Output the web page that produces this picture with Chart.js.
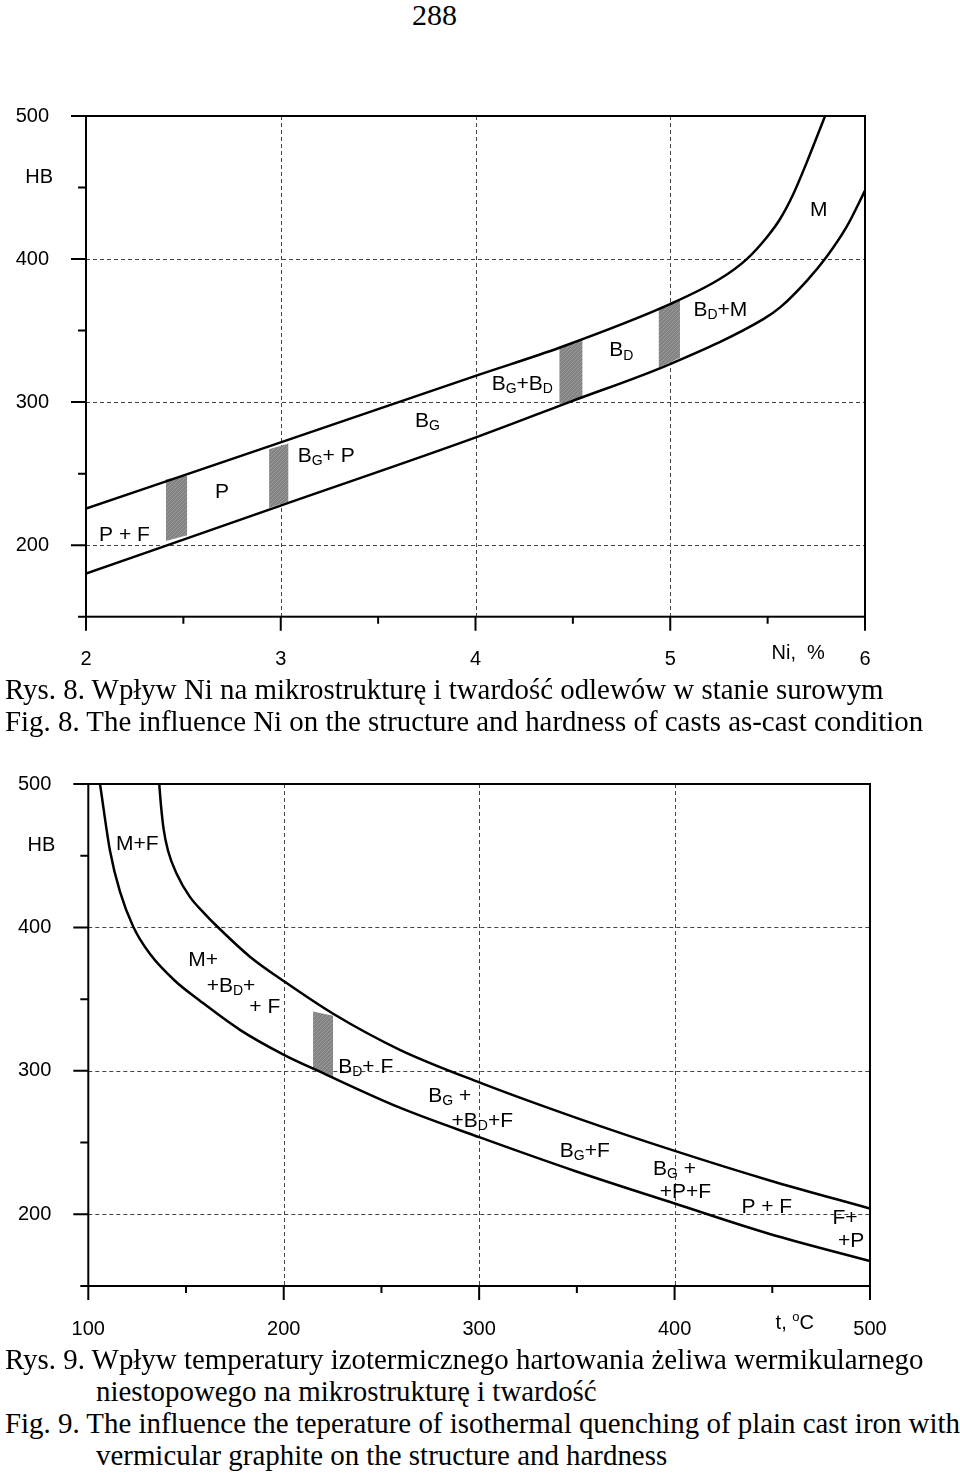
<!DOCTYPE html>
<html>
<head>
<meta charset="utf-8">
<script src="https://cdn.jsdelivr.net/npm/chart.js@4.4.1/dist/chart.umd.min.js"></script>
<style>
    body { margin: 0; background: #fff; width: 960px; height: 1477px; position: relative; overflow: hidden; }
    canvas { position: absolute; left: 0; }
    .cap { position: absolute; font-family: "Liberation Serif", "Times New Roman", serif; font-size: 28.9px; line-height: 32px; white-space: nowrap; color: #000; }
</style>
</head>
<body>
<div class="cap" style="left:412px; top:0px; font-size:30px; line-height:30px;">288</div>

<canvas id="niChart" width="960" height="600" style="top:75px"></canvas>
<div class="cap" style="left:5px; top:673px;">Rys. 8. Wpływ Ni na mikrostrukturę i twardość odlewów w stanie surowym</div>
<div class="cap" style="left:5px; top:705px;">Fig. 8. The influence Ni on the structure and hardness of casts as-cast condition</div>

<canvas id="tempChart" width="960" height="597" style="top:743px"></canvas>
<div class="cap" style="left:5px; top:1343px;">Rys. 9. Wpływ temperatury izotermicznego hartowania żeliwa wermikularnego</div>
<div class="cap" style="left:96px; top:1375px;">niestopowego na mikrostrukturę i twardość</div>
<div class="cap" style="left:5px; top:1407px;">Fig. 9. The influence the teperature of isothermal quenching of plain cast iron with</div>
<div class="cap" style="left:96px; top:1439px;">vermicular graphite on the structure and hardness</div>

<script>
// ---- Fig. 8: hardness vs Ni content ----
const niUpper = [2.0, 2.996, 4.023, 4.434, 4.999, 5.256, 5.393, 5.495, 5.564, 5.632, 5.701, 5.795];
const hbUpper = [225.6, 271.7, 319.4, 338.2, 368.5, 386.2, 400, 415.1, 428, 445.5, 467.6, 500];
const niLower = [2.0, 2.996, 4.023, 4.485, 4.999, 5.478, 5.564, 5.701, 5.803, 5.906, 6.0];
const hbLower = [180.1, 227.5, 276.4, 300.2, 326.6, 358, 366.2, 384.8, 401.6, 422.6, 447.8];

// grey transition zones between structures
const niBandFrom = [2.41, 2.94, 4.43, 4.94];
const niBandTo = [2.52, 3.04, 4.55, 5.05];
const hbBandTopFrom = [246, 267, 338, 366];
const hbBandTopTo = [248.5, 271, 344, 371];
const hbBandBotFrom = [203, 226, 298.5, 324];
const hbBandBotTo = [207, 230.5, 303, 331];

const niTickLabels = [2, 3, 4, 5, 6];
const hbTickLabels = [200, 300, 400, 500];

const niZones = ['P + F', 'P', 'B_G+ P', 'B_G', 'B_G+B_D', 'B_D', 'B_D+M', 'M'];
const niZoneNi = [2.067, 2.662, 3.087, 3.689, 4.083, 4.687, 5.119, 5.717];
const niZoneHb = [207, 237, 262, 287, 312.6, 336, 364, 434];

// ---- Fig. 9: hardness vs isothermal quenching temperature ----
const tUpper = [136.3, 137.2, 138.5, 140.8, 145.2, 151.9, 159.6, 165.7, 182.7, 200.1, 225.3, 259.4, 300.4, 349, 400.1, 448.7, 500];
const hbUpper2 = [500, 484.9, 468.9, 453.5, 437.5, 421.5, 409.5, 401, 379.6, 362.5, 339.8, 314.7, 291.8, 267.6, 244.2, 223.6, 204];
const tLower = [106, 111.1, 116.2, 123, 131.5, 144.3, 157.1, 177.6, 200.1, 218.5, 259.4, 300.4, 349, 400.1, 448.7, 500];
const hbLower2 = [500, 453.5, 424.9, 400.5, 381.6, 362.8, 348.9, 328.6, 311.2, 299.4, 274.3, 253.6, 230.2, 207.5, 186.3, 167.4];

const tBandFrom = [215];
const tBandTo = [225.3];
const hbBand2TopFrom = [341.4];
const hbBand2TopTo = [338.5];
const hbBand2BotFrom = [302];
const hbBand2BotTo = [296];

const tTickLabels = [100, 200, 300, 400, 500];

const tZones = ['M+F', 'M+', '+B_D+', '+ F', 'B_D+ F', 'B_G +', '+B_D+F', 'B_G+F', 'B_G +', '+P+F', 'P + F', 'F+', '+P'];
const tZoneT = [114.2, 151.2, 160.6, 182.4, 227.9, 273.9, 285.9, 341.3, 389, 392.4, 434.2, 480.8, 483.6];
const tZoneHb = [458.2, 377.2, 359.3, 344.2, 302.3, 282.6, 265.1, 244.2, 231.4, 215.1, 204.6, 197.6, 181.4];

const SANS = '"Liberation Sans", Arial, sans-serif';

function zip(xs, ys) {
    return xs.map((x, i) => ({ x: x, y: ys[i] }));
}

function hatch() {
    const c = document.createElement('canvas');
    c.width = c.height = 4;
    const g = c.getContext('2d');
    g.fillStyle = '#838383';
    g.fillRect(0, 0, 4, 4);
    g.strokeStyle = '#9c9c9c';
    g.lineWidth = 1;
    g.beginPath();
    g.moveTo(0, 4);
    g.lineTo(4, 0);
    g.stroke();
    return g.createPattern(c, 'repeat');
}

function bandDatasets(x0, x1, t0, t1, b0, b1) {
    const out = [];
    const pattern = hatch();
    x0.forEach((x, i) => {
        out.push({ data: [{ x: x, y: t0[i] }, { x: x1[i], y: t1[i] }], borderWidth: 0, pointRadius: 0, fill: false });
        out.push({ data: [{ x: x, y: b0[i] }, { x: x1[i], y: b1[i] }], borderWidth: 0, pointRadius: 0, fill: '-1', backgroundColor: pattern });
    });
    return out;
}

// text with single-char subscripts (_X) and superscripts (^X)
function drawRich(ctx, str, px, py, size) {
    let cx = px;
    ctx.textAlign = 'left';
    ctx.textBaseline = 'middle';
    for (let i = 0; i < str.length; i++) {
        let ch = str[i];
        let s = size, dy = 0;
        if (ch === '_' || ch === '^') {
            dy = ch === '_' ? size * 0.24 : -size * 0.3;
            s = Math.round(size * 0.66);
            ch = str[++i];
        }
        ctx.font = s + 'px ' + SANS;
        ctx.fillText(ch, cx, py + dy);
        cx += ctx.measureText(ch).width;
    }
}

// dashed grid, frame, tick marks and zone labels
const framePlugin = {
    id: 'frame',
    beforeDatasetsDraw(chart, args, opts) {
        const { ctx, chartArea: a, scales: { x, y } } = chart;
        ctx.save();
        ctx.strokeStyle = '#444';
        ctx.lineWidth = 1;
        ctx.setLineDash([4, 3]);
        ctx.beginPath();
        opts.xGrid.forEach(v => {
            const px = Math.round(x.getPixelForValue(v)) + 0.5;
            ctx.moveTo(px, a.top);
            ctx.lineTo(px, a.bottom);
        });
        opts.yGrid.forEach(v => {
            const py = Math.round(y.getPixelForValue(v)) + 0.5;
            ctx.moveTo(a.left, py);
            ctx.lineTo(a.right, py);
        });
        ctx.stroke();
        ctx.restore();
    },
    afterDatasetsDraw(chart, args, opts) {
        const { ctx, chartArea: a, scales: { x, y } } = chart;
        ctx.save();
        ctx.strokeStyle = '#000';
        ctx.fillStyle = '#000';
        ctx.lineWidth = 2;
        ctx.setLineDash([]);
        ctx.strokeRect(a.left, a.top, a.right - a.left, a.bottom - a.top);

        ctx.beginPath();
        opts.xMajor.forEach(v => {
            const px = x.getPixelForValue(v);
            ctx.moveTo(px, a.bottom);
            ctx.lineTo(px, a.bottom + 14);
        });
        opts.xMinor.forEach(v => {
            const px = x.getPixelForValue(v);
            ctx.moveTo(px, a.bottom);
            ctx.lineTo(px, a.bottom + 7);
        });
        opts.yMajor.forEach(v => {
            const py = y.getPixelForValue(v);
            ctx.moveTo(a.left - 15, py);
            ctx.lineTo(a.left, py);
        });
        opts.yMinor.forEach(v => {
            const py = y.getPixelForValue(v);
            ctx.moveTo(a.left - 8, py);
            ctx.lineTo(a.left, py);
        });
        ctx.stroke();

        // axis names
        ctx.font = '20px ' + SANS;
        ctx.textAlign = 'right';
        ctx.textBaseline = 'middle';
        ctx.fillText('HB', a.left - 33, y.getPixelForValue(450) - 10);
        drawRich(ctx, opts.xName, x.getPixelForValue(opts.xNameAt), a.bottom + 37, 20);

        opts.zones.forEach((txt, i) => {
            drawRich(ctx, txt, x.getPixelForValue(opts.zoneX[i]), y.getPixelForValue(opts.zoneY[i]), 21);
        });
        ctx.restore();
    }
};

const lineStyle = {
    borderColor: '#000',
    borderWidth: 2.5,
    pointRadius: 0,
    fill: false,
    cubicInterpolationMode: 'monotone'
};

function makeScales(xMin, xMax, xStep, xLabels, xHeight, yWidth) {
    const font = { size: 20, family: SANS };
    return {
        x: {
            type: 'linear', min: xMin, max: xMax,
            grid: { display: false }, border: { display: false },
            ticks: {
                stepSize: xStep, autoSkip: false, maxRotation: 0, color: '#000', font: font, padding: 23,
                callback: v => xLabels.includes(v) ? String(v) : ''
            },
            afterFit: s => { s.height = xHeight; }
        },
        y: {
            type: 'linear', min: 150, max: 500,
            grid: { display: false }, border: { display: false },
            ticks: {
                stepSize: 50, autoSkip: false, color: '#000', font: font, padding: 29,
                callback: v => hbTickLabels.includes(v) ? String(v) : ''
            },
            afterFit: s => { s.width = yWidth; }
        }
    };
}

class HardnessFigures {
    constructor() {
        Chart.defaults.font.family = SANS;
        this.drawNiChart();
        this.drawTempChart();
    }

    drawNiChart() {
        new Chart(document.getElementById('niChart'), {
            type: 'line',
            data: {
                datasets: [
                    { ...lineStyle, data: zip(niUpper, hbUpper) },
                    { ...lineStyle, data: zip(niLower, hbLower) },
                    ...bandDatasets(niBandFrom, niBandTo, hbBandTopFrom, hbBandTopTo, hbBandBotFrom, hbBandBotTo)
                ]
            },
            options: {
                responsive: false,
                animation: false,
                layout: { padding: { top: 20, right: 95, left: 0, bottom: 0 } },
                scales: makeScales(2, 6, 0.5, niTickLabels, 58.3, 86),
                plugins: {
                    legend: { display: false },
                    tooltip: { enabled: false },
                    frame: {
                        xGrid: [3, 4, 5], yGrid: [200, 300, 400],
                        xMajor: [2, 3, 4, 5, 6], xMinor: [2.5, 3.5, 4.5, 5.5],
                        yMajor: [200, 300, 400, 500], yMinor: [150, 250, 350, 450],
                        xName: 'Ni,  %', xNameAt: 5.52,
                        zones: niZones, zoneX: niZoneNi, zoneY: niZoneHb
                    }
                }
            },
            plugins: [framePlugin]
        });
    }

    drawTempChart() {
        new Chart(document.getElementById('tempChart'), {
            type: 'line',
            data: {
                datasets: [
                    { ...lineStyle, data: zip(tUpper, hbUpper2) },
                    { ...lineStyle, data: zip(tLower, hbLower2) },
                    ...bandDatasets(tBandFrom, tBandTo, hbBand2TopFrom, hbBand2TopTo, hbBand2BotFrom, hbBand2BotTo)
                ]
            },
            options: {
                responsive: false,
                animation: false,
                layout: { padding: { top: 20, right: 90, left: 0, bottom: 0 } },
                scales: makeScales(100, 500, 50, tTickLabels, 54, 88.3),
                plugins: {
                    legend: { display: false },
                    tooltip: { enabled: false },
                    frame: {
                        xGrid: [200, 300, 400], yGrid: [200, 300, 400],
                        xMajor: [100, 200, 300, 400, 500], xMinor: [150, 250, 350, 450],
                        yMajor: [200, 300, 400, 500], yMinor: [150, 250, 350, 450],
                        xName: 't, ^oC', xNameAt: 451.7,
                        zones: tZones, zoneX: tZoneT, zoneY: tZoneHb
                    }
                }
            },
            plugins: [framePlugin]
        });
    }
}

document.addEventListener('DOMContentLoaded', () => {
    new HardnessFigures();
});
</script>
</body>
</html>
